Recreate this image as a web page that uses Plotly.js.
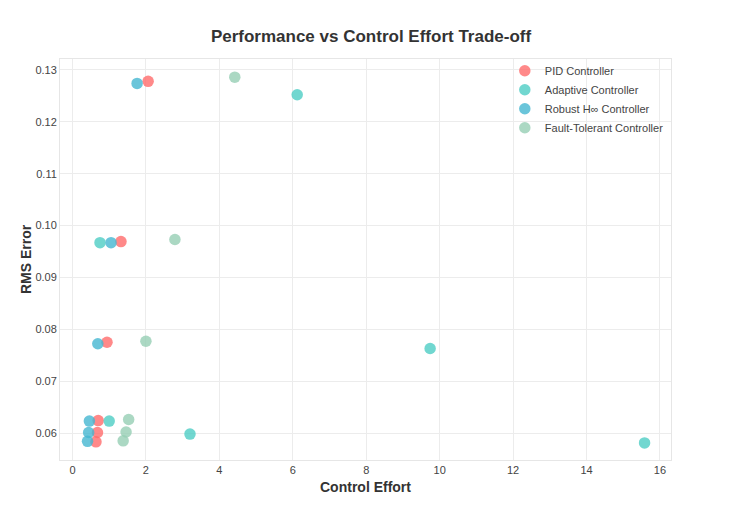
<!DOCTYPE html>
<html>
<head>
<meta charset="utf-8">
<script src="https://cdn.plot.ly/plotly-3.0.1.min.js"></script>
<style>html,body{margin:0;padding:0;background:#fff;}#chart{width:742px;height:526px;}</style>
</head>
<body>
<div id="chart"></div>
<script>
const seriesNames = ["PID Controller", "Adaptive Controller", "Robust H\u221E Controller", "Fault-Tolerant Controller"];
const seriesColors = ["#FF6B6B", "#4ECDC4", "#45B7D1", "#96CEB4"];
const pidEffort = [2.06, 1.32, 0.94, 0.70, 0.68, 0.64];
const pidError = [0.1278, 0.0969, 0.0775, 0.0624, 0.0601, 0.0583];
const adaptiveEffort = [6.12, 0.75, 9.74, 1.00, 3.20, 15.58];
const adaptiveError = [0.1252, 0.0967, 0.0763, 0.0623, 0.0598, 0.0581];
const robustEffort = [1.76, 1.05, 0.69, 0.46, 0.44, 0.41];
const robustError = [0.1274, 0.0967, 0.0772, 0.0623, 0.0601, 0.0584];
const faultEffort = [4.42, 2.79, 2.00, 1.53, 1.46, 1.38];
const faultError = [0.1286, 0.0973, 0.0777, 0.0626, 0.0602, 0.0585];

const xs = [pidEffort, adaptiveEffort, robustEffort, faultEffort];
const ys = [pidError, adaptiveError, robustError, faultError];

const traces = seriesNames.map((n, i) => ({
  type: "scatter",
  mode: "markers",
  name: n,
  x: xs[i],
  y: ys[i],
  marker: {color: seriesColors[i], size: 11.5, opacity: 0.8, line: {width: 0}}
}));

const axisCommon = {
  showgrid: true,
  gridcolor: "#ececec",
  gridwidth: 1,
  zeroline: false,
  showline: true,
  linecolor: "#e6e6e6",
  linewidth: 1,
  mirror: true,
  ticks: "",
  tickfont: {family: "Liberation Sans, Arial, sans-serif", size: 11, color: "#444"}
};

const layout = {
  width: 742,
  height: 526,
  paper_bgcolor: "#fff",
  plot_bgcolor: "#fff",
  margin: {l: 60, r: 71, t: 59, b: 66},
  font: {family: "Liberation Sans, Arial, sans-serif", color: "#333"},
  title: {text: "<b>Performance vs Control Effort Trade-off</b>", x: 0.5, xanchor: "center", y: 0.932, yanchor: "middle",
          font: {size: 17, color: "#333"}},
  xaxis: Object.assign({}, axisCommon, {
    range: [-0.34, 16.3], dtick: 2, tick0: 0,
    title: {text: "<b>Control Effort</b>", font: {size: 14, color: "#333"}, standoff: 6}
  }),
  yaxis: Object.assign({}, axisCommon, {
    range: [0.0548, 0.1321], dtick: 0.01, tick0: 0.06, tickformat: ".2f",
    title: {text: "<b>RMS Error</b>", font: {size: 14, color: "#333"}, standoff: 0}
  }),
  legend: {x: 0.728, y: 1.007, xanchor: "left", yanchor: "top", bgcolor: "rgba(255,255,255,0)",
           font: {size: 11, color: "#444"}, tracegroupgap: 0},
  showlegend: true
};

Plotly.newPlot("chart", traces, layout, {displayModeBar: false, staticPlot: true});
</script>
</body>
</html>
